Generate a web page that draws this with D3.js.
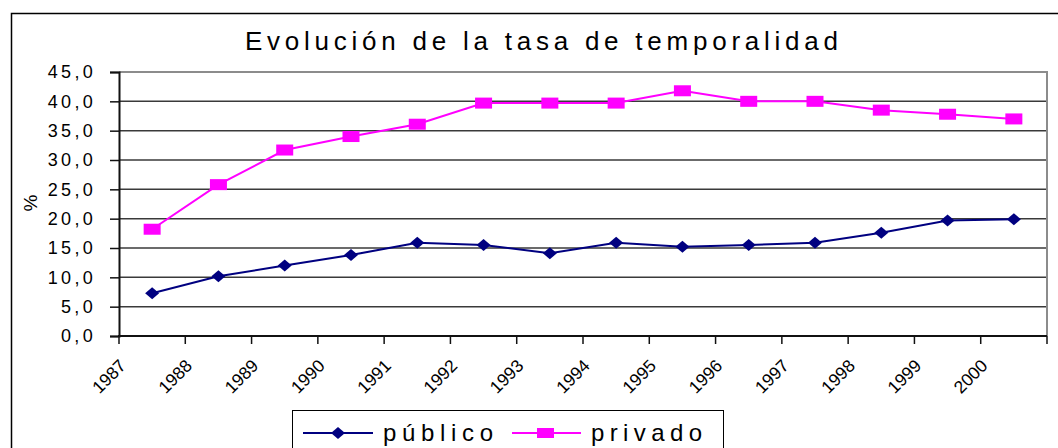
<!DOCTYPE html>
<html>
<head>
<meta charset="utf-8">
<script src="https://cdn.jsdelivr.net/npm/d3@7"></script>
<style>
  body { margin: 0; background: #fff; }
  svg { display: block; font-family: "Liberation Sans", Arial, sans-serif; }
</style>
</head>
<body>
<svg id="chart" width="1058" height="448"></svg>
<script>
const years = ["1987", "1988", "1989", "1990", "1991", "1992", "1993", "1994", "1995", "1996", "1997", "1998", "1999", "2000"];
const publico = [7.3, 10.2, 12.0, 13.8, 15.9, 15.5, 14.1, 15.9, 15.2, 15.5, 15.9, 17.6, 19.7, 19.9];
const privado = [18.2, 25.8, 31.7, 34.0, 36.1, 39.7, 39.7, 39.7, 41.8, 40.0, 40.0, 38.5, 37.8, 37.0];
const yTicks = [0, 5, 10, 15, 20, 25, 30, 35, 40, 45];

const svg = d3.select("#chart");
const plotLeft = 119, plotRight = 1047, plotTop = 72, plotBottom = 336;

const x = d3.scaleBand().domain(years).range([plotLeft, plotRight]).padding(0);
const y = d3.scaleLinear().domain([0, 45]).range([plotBottom, plotTop]);
const cx = (d, i) => x(years[i]) + x.bandwidth() / 2;

// outer chart frame (runs off the right and bottom edge)
svg.append("rect")
  .attr("x", 11.5).attr("y", 13.5)
  .attr("width", 1060).attr("height", 460)
  .attr("fill", "none").attr("stroke", "#000").attr("stroke-width", 1.5);

// title
svg.append("text")
  .attr("x", 245).attr("y", 50)
  .attr("font-size", 26)
  .attr("textLength", 593)
  .attr("lengthAdjust", "spacing")
  .attr("fill", "#000")
  .text("Evolución de la tasa de temporalidad");

// gridlines
svg.append("g")
  .selectAll("line")
  .data(yTicks.filter((d) => d > 0 && d < 45))
  .join("line")
  .attr("x1", plotLeft).attr("x2", plotRight)
  .attr("y1", (d) => y(d)).attr("y2", (d) => y(d))
  .attr("stroke", "#3a3a3a").attr("stroke-width", 1.5);

// plot area border top / right (grey)
svg.append("path")
  .attr("d", `M${plotLeft},${y(45)}H${plotRight}V${plotBottom}`)
  .attr("fill", "none").attr("stroke", "#8c8c8c").attr("stroke-width", 2);

// y axis
const yAxis = svg.append("g")
  .attr("transform", `translate(${plotLeft},0)`)
  .call(d3.axisLeft(y).tickValues(yTicks).tickSize(9).tickPadding(14)
    .tickFormat((d) => d.toFixed(1).replace(".", ",")));
yAxis.select(".domain").attr("stroke", "#111").attr("stroke-width", 2);
yAxis.selectAll(".tick line").attr("stroke", "#111").attr("stroke-width", 1.5);
yAxis.selectAll("text")
  .attr("font-size", 18).attr("fill", "#000")
  .style("letter-spacing", "3.3px")
  .attr("font-family", "Liberation Sans, Arial, sans-serif");

// x axis: ticks on category boundaries
const xg = svg.append("g");
xg.append("line")
  .attr("x1", plotLeft - 1).attr("x2", plotRight)
  .attr("y1", plotBottom).attr("y2", plotBottom)
  .attr("stroke", "#111").attr("stroke-width", 2);
xg.selectAll("line.tick")
  .data(years.map((d) => x(d)).concat([x.range()[1]]))
  .join("line")
  .attr("class", "tick")
  .attr("x1", (d) => d).attr("x2", (d) => d)
  .attr("y1", plotBottom).attr("y2", plotBottom + 8)
  .attr("stroke", "#111").attr("stroke-width", 1.5);
xg.selectAll("text")
  .data(years)
  .join("text")
  .attr("transform", (d) => `translate(${x(d) - 1},${plotBottom + 22}) rotate(-45)`)
  .attr("text-anchor", "end")
  .attr("dy", "0.72em")
  .attr("font-size", 17.5)
  .attr("fill", "#000")
  .text((d) => d);

// y label
svg.append("text")
  .attr("transform", "translate(37,203) rotate(-90)")
  .attr("text-anchor", "middle")
  .attr("font-size", 19)
  .text("%");

// lines
const line = d3.line().x(cx).y((d) => y(d));
svg.append("path").datum(publico)
  .attr("d", line).attr("fill", "none")
  .attr("stroke", "#000080").attr("stroke-width", 2);
svg.append("path").datum(privado)
  .attr("d", line).attr("fill", "none")
  .attr("stroke", "#ff00ff").attr("stroke-width", 2);

// markers
const diamond = (px, py) => `M${px},${py - 6}L${px + 7},${py}L${px},${py + 6}L${px - 7},${py}Z`;
svg.append("g").selectAll("path")
  .data(publico)
  .join("path")
  .attr("d", (d, i) => diamond(cx(d, i), y(d)))
  .attr("fill", "#000080");
svg.append("g").selectAll("rect")
  .data(privado)
  .join("rect")
  .attr("x", (d, i) => cx(d, i) - 8.5).attr("y", (d) => y(d) - 5.5)
  .attr("width", 17).attr("height", 11)
  .attr("fill", "#ff00ff");

// legend
const lg = svg.append("g");
lg.append("rect")
  .attr("x", 292.5).attr("y", 410.5)
  .attr("width", 431).attr("height", 60)
  .attr("fill", "#fff").attr("stroke", "#000").attr("stroke-width", 1);
lg.append("line").attr("x1", 303).attr("x2", 373).attr("y1", 433).attr("y2", 433)
  .attr("stroke", "#000080").attr("stroke-width", 2);
lg.append("path").attr("d", diamond(338, 433)).attr("fill", "#000080");
lg.append("text").attr("x", 383).attr("y", 441)
  .attr("font-size", 24).attr("textLength", 110).attr("lengthAdjust", "spacing")
  .text("público");
lg.append("line").attr("x1", 512).attr("x2", 581).attr("y1", 433).attr("y2", 433)
  .attr("stroke", "#ff00ff").attr("stroke-width", 2);
lg.append("rect").attr("x", 537).attr("y", 428).attr("width", 17).attr("height", 10)
  .attr("fill", "#ff00ff");
lg.append("text").attr("x", 591).attr("y", 441)
  .attr("font-size", 24).attr("textLength", 111).attr("lengthAdjust", "spacing")
  .text("privado");
</script>
</body>
</html>
